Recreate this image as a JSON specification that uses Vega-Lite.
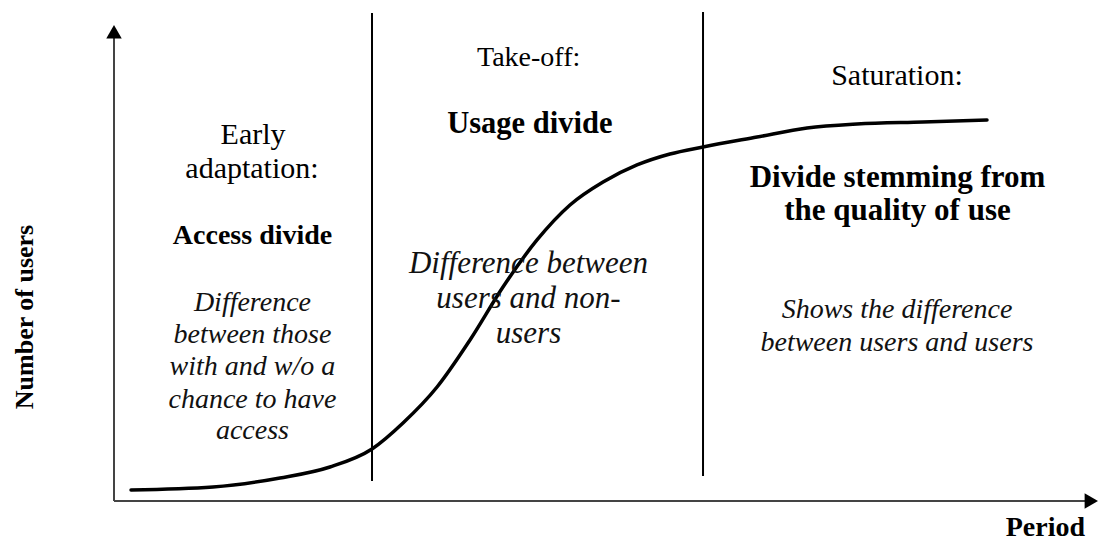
{
  "$schema": "https://vega.github.io/schema/vega-lite/v6.json",
  "width": 984,
  "height": 501,
  "autosize": {"type": "none"},
  "padding": {"left": 114, "top": 0, "right": 0, "bottom": 40},
  "background": "white",
  "config": {"view": {"stroke": null}, "font": "'Liberation Serif', 'Times New Roman', serif"},
  "resolve": {"scale": {"size": "independent"}},
  "datasets": {
    "curve": [
      {"period": 1.73, "users": 2.2},
      {"period": 10.06, "users": 2.79},
      {"period": 16.87, "users": 4.59},
      {"period": 21.95, "users": 6.79},
      {"period": 26.22, "users": 10.38},
      {"period": 29.37, "users": 15.57},
      {"period": 32.83, "users": 22.75},
      {"period": 36.18, "users": 32.14},
      {"period": 39.53, "users": 42.71},
      {"period": 42.99, "users": 52.1},
      {"period": 46.34, "users": 59.08},
      {"period": 49.7, "users": 63.67},
      {"period": 53.15, "users": 67.07},
      {"period": 56.5, "users": 69.26},
      {"period": 59.86, "users": 70.66},
      {"period": 65.35, "users": 72.65},
      {"period": 70.43, "users": 74.45},
      {"period": 75.51, "users": 75.25},
      {"period": 82.22, "users": 75.65},
      {"period": 88.72, "users": 76.05}
    ],
    "dividers": [
      {"period": 26.22, "from": 3.99, "to": 97.41},
      {"period": 59.86, "from": 4.99, "to": 97.6}
    ],
    "axes": [
      {"period": 0, "users": 0, "period2": 0, "users2": 94},
      {"period": 0, "users": 0, "period2": 99, "users2": 0}
    ],
    "arrows": [
      {"period": 0, "users": 93.67, "dir": "up"},
      {"period": 99.32, "users": 0, "dir": "right"}
    ],
    "labels": [
      {"period": 14.13, "users": 71.34, "section": "early", "role": "phase", "text": "Early"},
      {"period": 14.02, "users": 64.47, "section": "early", "role": "phase", "text": "adaptation:"},
      {"period": 42.14, "users": 86.83, "section": "takeoff", "role": "phase", "text": "Take-off:"},
      {"period": 79.57, "users": 83.07, "section": "saturation", "role": "phase", "text": "Saturation:"},
      {"period": 14.08, "users": 51.3, "section": "early", "role": "divide", "text": "Access divide"},
      {"period": 42.26, "users": 73.45, "section": "takeoff", "role": "divide", "text": "Usage divide"},
      {"period": 79.62, "users": 62.67, "section": "saturation", "role": "divide", "text": "Divide stemming from"},
      {"period": 79.62, "users": 56.15, "section": "saturation", "role": "divide", "text": "the quality of use"},
      {"period": 14.07, "users": 37.92, "section": "early", "role": "description", "text": "Difference"},
      {"period": 14.07, "users": 31.62, "section": "early", "role": "description", "text": "between those"},
      {"period": 14.07, "users": 25.15, "section": "early", "role": "description", "text": "with and w/o a"},
      {"period": 14.07, "users": 18.56, "section": "early", "role": "description", "text": "chance to have"},
      {"period": 14.07, "users": 12.38, "section": "early", "role": "description", "text": "access"},
      {"period": 42.12, "users": 45.51, "section": "takeoff", "role": "description", "text": "Difference between"},
      {"period": 42.12, "users": 38.52, "section": "takeoff", "role": "description", "text": "users and non-"},
      {"period": 42.12, "users": 31.54, "section": "takeoff", "role": "description", "text": "users"},
      {"period": 79.57, "users": 36.53, "section": "saturation", "role": "description", "text": "Shows the difference"},
      {"period": 79.57, "users": 29.94, "section": "saturation", "role": "description", "text": "between users and users"}
    ],
    "titles": [
      {"period": -8.23, "users": 36.73, "role": "y", "text": "Number of users"},
      {"period": 98.68, "users": -7.0, "role": "x", "text": "Period"}
    ]
  },
  "layer": [
    {
      "data": {"name": "axes"},
      "mark": {"type": "rule", "color": "#444444", "strokeWidth": 2},
      "encoding": {
        "x": {"field": "period", "type": "quantitative", "scale": {"domain": [0, 100], "nice": false}, "axis": null},
        "y": {"field": "users", "type": "quantitative", "scale": {"domain": [0, 100], "nice": false}, "axis": null},
        "x2": {"field": "period2"},
        "y2": {"field": "users2"}
      }
    },
    {
      "data": {"name": "arrows"},
      "mark": {"type": "point", "filled": true, "color": "#000000", "opacity": 1, "size": 240},
      "encoding": {
        "x": {"field": "period", "type": "quantitative"},
        "y": {"field": "users", "type": "quantitative"},
        "shape": {"field": "dir", "type": "nominal", "scale": {"domain": ["up", "right"], "range": ["triangle-up", "triangle-right"]}, "legend": null}
      }
    },
    {
      "data": {"name": "dividers"},
      "mark": {"type": "rule", "color": "#000000", "strokeWidth": 2},
      "encoding": {
        "x": {"field": "period", "type": "quantitative"},
        "y": {"field": "from", "type": "quantitative"},
        "y2": {"field": "to"}
      }
    },
    {
      "data": {"name": "curve"},
      "mark": {"type": "line", "color": "#000000", "strokeWidth": 3.5, "interpolate": "monotone", "strokeCap": "round"},
      "encoding": {
        "x": {"field": "period", "type": "quantitative"},
        "y": {"field": "users", "type": "quantitative"}
      }
    },
    {
      "data": {"name": "labels"},
      "transform": [{"filter": "datum.role === 'phase'"}],
      "mark": {"type": "text", "font": "'Liberation Serif', 'Times New Roman', serif", "align": "center", "baseline": "alphabetic", "color": "#000000"},
      "encoding": {
        "x": {"field": "period", "type": "quantitative"},
        "y": {"field": "users", "type": "quantitative"},
        "text": {"field": "text"},
        "size": {"field": "section", "type": "nominal", "scale": {"type": "ordinal", "domain": ["early", "takeoff", "saturation"], "range": [30, 28, 30]}, "legend": null}
      }
    },
    {
      "data": {"name": "labels"},
      "transform": [{"filter": "datum.role === 'divide'"}],
      "mark": {"type": "text", "font": "'Liberation Serif', 'Times New Roman', serif", "fontWeight": "bold", "align": "center", "baseline": "alphabetic", "color": "#000000"},
      "encoding": {
        "x": {"field": "period", "type": "quantitative"},
        "y": {"field": "users", "type": "quantitative"},
        "text": {"field": "text"},
        "size": {"field": "section", "type": "nominal", "scale": {"type": "ordinal", "domain": ["early", "takeoff", "saturation"], "range": [28, 30.5, 31]}, "legend": null}
      }
    },
    {
      "data": {"name": "labels"},
      "transform": [{"filter": "datum.role === 'description'"}],
      "mark": {"type": "text", "font": "'Liberation Serif', 'Times New Roman', serif", "fontStyle": "italic", "align": "center", "baseline": "alphabetic", "color": "#111111"},
      "encoding": {
        "x": {"field": "period", "type": "quantitative"},
        "y": {"field": "users", "type": "quantitative"},
        "text": {"field": "text"},
        "size": {"field": "section", "type": "nominal", "scale": {"type": "ordinal", "domain": ["early", "takeoff", "saturation"], "range": [28, 31, 28]}, "legend": null}
      }
    },
    {
      "data": {"name": "titles"},
      "transform": [{"filter": "datum.role === 'y'"}],
      "mark": {"type": "text", "font": "'Liberation Serif', 'Times New Roman', serif", "fontSize": 26, "fontWeight": "bold", "angle": 270, "align": "center", "baseline": "alphabetic", "color": "#000000"},
      "encoding": {
        "x": {"field": "period", "type": "quantitative"},
        "y": {"field": "users", "type": "quantitative"},
        "text": {"field": "text"}
      }
    },
    {
      "data": {"name": "titles"},
      "transform": [{"filter": "datum.role === 'x'"}],
      "mark": {"type": "text", "font": "'Liberation Serif', 'Times New Roman', serif", "fontSize": 28, "fontWeight": "bold", "align": "right", "baseline": "alphabetic", "color": "#000000"},
      "encoding": {
        "x": {"field": "period", "type": "quantitative"},
        "y": {"field": "users", "type": "quantitative"},
        "text": {"field": "text"}
      }
    }
  ]
}
